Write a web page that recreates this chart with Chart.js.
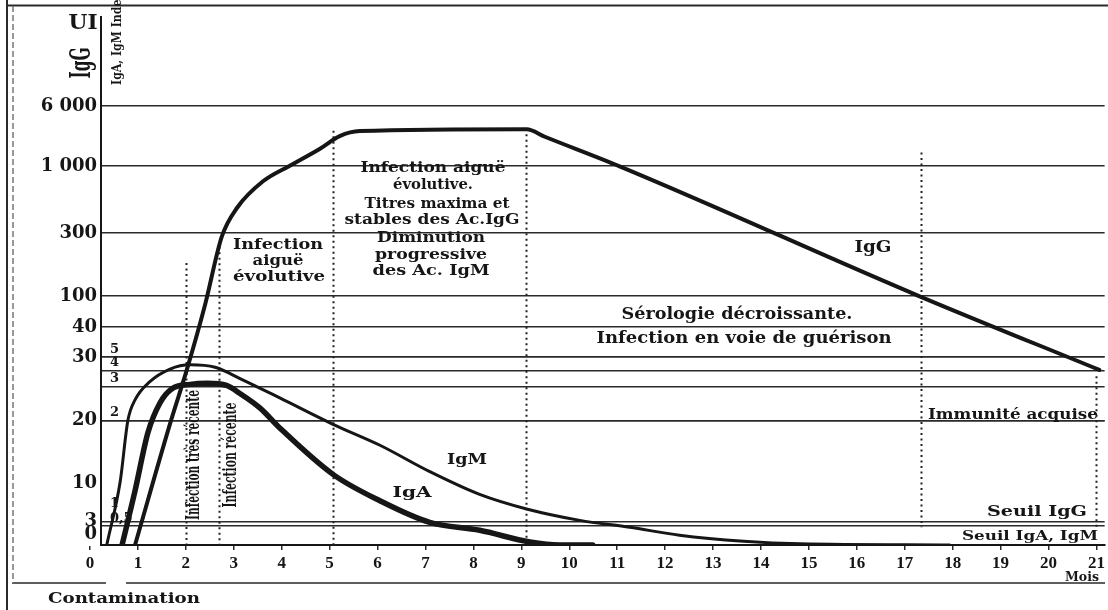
<!DOCTYPE html>
<html>
<head>
<meta charset="utf-8">
<title>Sérologie IgG IgM IgA</title>
<script src="https://cdn.jsdelivr.net/npm/chart.js@4.4.0/dist/chart.umd.min.js"></script>
<style>
    html, body { margin: 0; padding: 0; background: #fff; }
    canvas { display: block; }
</style>
</head>
<body>
<canvas id="serologyChart" width="1108" height="610"></canvas>
<script>
// IgG graduation (UI) on the left, and where each step sits on the drawn axis
const iggLabels = ['0', '3', '10', '20', '30', '40', '100', '300', '1 000', '6 000'];
const iggValues = [0, 3, 10, 20, 30, 40, 100, 300, 1000, 6000];
const iggLevels = [0, 0.37, 0.98, 1.98, 2.99, 3.47, 3.96, 4.97, 6.03, 6.99];

// IgA / IgM index graduation (inner scale)
const indexLabels = ['0', '0,5', '1', '2', '3', '4', '5'];
const indexValues = [0, 0.5, 1, 2, 3, 4, 5];
const indexLevels = [0, 0.30, 0.53, 1.98, 2.52, 2.77, 2.99];

// months after contamination
const monthTicks = [0, 1, 2, 3, 4, 5, 6, 7, 8, 9, 10, 11, 12, 13, 14, 15, 16, 17, 18, 19, 20, 21];

// IgG titre (UI)
const iggMonths = [0.94, 1.69, 2.02, 2.40, 2.75, 3.07, 3.61, 4.17, 4.80, 5.21, 5.63, 9.11, 9.49, 11.05, 17.31, 21.06];
const iggTitre  = [0, 20, 28, 83, 288, 564, 842, 1050, 2460, 3500, 3920, 4070, 3450, 1000, 100, 28];

// IgM index
const igmMonths = [0.35, 0.63, 0.79, 0.94, 1.25, 1.67, 2.09, 2.61, 3.13, 3.96, 5.07, 6.05, 7.09, 8.13, 9.11, 10.22, 11.26, 12.30, 13.64, 14.81, 17.94];
const igmIndex  = [0, 1.33, 2.0, 2.61, 3.32, 4.14, 4.45, 4.27, 3.52, 2.67, 1.96, 1.73, 1.44, 1.19, 1.03, 0.70, 0.47, 0.26, 0.10, 0.03, 0];

// IgA index
const igaMonths = [0.67, 0.94, 1.21, 1.46, 1.71, 2.09, 2.45, 2.85, 3.13, 3.55, 3.96, 5.07, 6.05, 7.09, 8.13, 9.18, 9.80, 10.49];
const igaIndex  = [0, 1.23, 1.87, 2.52, 2.94, 3.15, 3.22, 3.08, 2.80, 2.37, 1.92, 1.41, 1.12, 0.63, 0.39, 0.08, 0, 0];

// dotted phase boundaries: month, top and bottom (IgG UI)
const phaseMonths = [2.0, 2.69, 5.07, 9.1, 17.33, 21.0];
const phaseTop    = [205, 256, 3950, 3660, 2150, 27];
const phaseBottom = [0, 0, 0, 0, 2.3, 2.3];

const ink = '#161616';
const serif = '"DejaVu Serif", "Liberation Serif", serif';

// piecewise mapping of a value onto the graduated axis
function toLevel(v, values, levels) {
    if (v <= values[0]) return levels[0];
    for (let i = 1; i < values.length; i++) {
        if (v <= values[i]) {
            const t = (v - values[i - 1]) / (values[i] - values[i - 1]);
            return levels[i - 1] + t * (levels[i] - levels[i - 1]);
        }
    }
    return levels[levels.length - 1];
}

function makeSeries(months, vals, values, levels) {
    return months.map((m, i) => ({ x: m, y: toLevel(vals[i], values, levels) }));
}

function drawText(ctx, str, x, y, size, width, opts = {}) {
    ctx.save();
    ctx.font = 'bold ' + size + 'px ' + (opts.family || serif);
    ctx.textBaseline = 'middle';
    ctx.textAlign = 'center';
    ctx.fillStyle = ink;
    const w = ctx.measureText(str).width;
    ctx.translate(x, y);
    if (opts.rotate) ctx.rotate(-Math.PI / 2);
    ctx.scale(width ? width / w : 1, opts.cross || 1);
    ctx.fillText(str, 0, 0);
    ctx.restore();
}

// text on the figure: string, centre x, centre y, font size, width
const notes = [
    ['Infection', 278, 245, 14, 90],
    ['aiguë', 278, 261, 14, 51],
    ['évolutive', 279, 277, 14, 92],
    ['Infection aiguë', 433, 168, 14, 145],
    ['évolutive.', 433, 185, 14, 80],
    ['Titres maxima et', 437, 204, 14, 145],
    ['stables des Ac.IgG', 432, 220, 14, 175],
    ['Diminution', 431, 238, 14, 108],
    ['progressive', 431, 255, 14, 112],
    ['des Ac. IgM', 431, 271, 14, 117],
    ['IgG', 873, 248, 16, 37],
    ['Sérologie décroissante.', 737, 315, 16, 231],
    ['Infection en voie de guérison', 744, 339, 16, 295],
    ['Immunité acquise', 1013, 415, 15, 170],
    ['IgM', 467, 460, 15, 40],
    ['IgA', 412, 493, 15, 39],
    ['Seuil IgG', 1037, 512, 15, 100],
    ['Seuil IgA, IgM', 1030, 537, 12, 136],
    ['Mois', 1082, 578, 13, 34],
    ['Contamination', 124, 599, 15, 152],
    ['UI', 83, 24, 20, 29]
];

const decorations = {
    id: 'decorations',
    beforeDatasetsDraw(chart) {
        const { ctx, scales: { x, y } } = chart;
        ctx.save();
        ctx.strokeStyle = '#222';
        ctx.lineWidth = 2;
        ctx.setLineDash([2, 3.5]);
        phaseMonths.forEach((m, i) => {
            const px = Math.round(x.getPixelForValue(m)) + 0.5;
            ctx.beginPath();
            ctx.moveTo(px, y.getPixelForValue(toLevel(phaseTop[i], iggValues, iggLevels)));
            ctx.lineTo(px, y.getPixelForValue(toLevel(phaseBottom[i], iggValues, iggLevels)));
            ctx.stroke();
        });
        ctx.restore();
    },
    afterDraw(chart) {
        const ctx = chart.ctx;
        // frame of the scanned figure
        ctx.save();
        ctx.strokeStyle = '#2a2a2a';
        ctx.lineWidth = 2;
        ctx.beginPath();
        ctx.moveTo(7, 5.5); ctx.lineTo(1108, 5.5);
        ctx.moveTo(7, 0); ctx.lineTo(7, 610);
        ctx.stroke();
        ctx.lineWidth = 1.5;
        ctx.beginPath();
        ctx.moveTo(12, 583); ctx.lineTo(106, 583);
        ctx.moveTo(126, 583); ctx.lineTo(1105, 583);
        ctx.stroke();
        ctx.strokeStyle = '#777';
        ctx.setLineDash([6, 3]);
        ctx.beginPath();
        ctx.moveTo(13, 6); ctx.lineTo(13, 583);
        ctx.stroke();
        ctx.restore();

        notes.forEach(n => drawText(ctx, n[0], n[1], n[2], n[3], n[4]));
        drawText(ctx, 'IgG', 83, 63, 22, 31, { rotate: true, cross: 1.3 });
        drawText(ctx, 'IgA, IgM Index', 118, 39, 11, 92, { rotate: true, cross: 1.1 });
        drawText(ctx, 'Infection très récente', 194, 455, 15, 130, { rotate: true, cross: 1.25 });
        drawText(ctx, 'Infection récente', 231, 455, 15, 105, { rotate: true, cross: 1.25 });
    }
};

const tickFont = { family: serif, weight: 'bold', size: 18 };

new Chart(document.getElementById('serologyChart'), {
    type: 'line',
    data: {
        datasets: [
            {
                label: 'IgG',
                data: makeSeries(iggMonths, iggTitre, iggValues, iggLevels),
                borderColor: ink,
                borderWidth: 4
            },
            {
                label: 'IgM',
                data: makeSeries(igmMonths, igmIndex, indexValues, indexLevels),
                borderColor: ink,
                borderWidth: 3
            },
            {
                label: 'IgA',
                data: makeSeries(igaMonths, igaIndex, indexValues, indexLevels),
                borderColor: ink,
                borderWidth: 5.5
            }
        ]
    },
    options: {
        responsive: false,
        animation: false,
        devicePixelRatio: 1,
        layout: { padding: { top: 5, right: 3, left: 0, bottom: 0 } },
        elements: {
            point: { radius: 0 },
            line: { cubicInterpolationMode: 'monotone', borderCapStyle: 'round', borderJoinStyle: 'round', fill: false }
        },
        plugins: {
            legend: { display: false },
            tooltip: { enabled: false }
        },
        scales: {
            x: {
                type: 'linear',
                min: 0.23,
                max: 21.17,
                afterBuildTicks: s => { s.ticks = monthTicks.map(v => ({ value: v })); },
                afterFit: s => { s.height = 65; },
                ticks: {
                    autoSkip: false,
                    maxRotation: 0,
                    padding: 3,
                    color: ink,
                    font: { family: '"Liberation Serif", serif', weight: 'bold', size: 17 },
                    callback: (v, i) => String(monthTicks[i])
                },
                grid: { drawOnChartArea: false, tickLength: 5, color: '#2a2a2a', lineWidth: 1.5 },
                border: { color: ink, width: 2 }
            },
            y: {
                type: 'linear',
                position: 'left',
                weight: 1,
                min: 0,
                max: 8.41,
                afterBuildTicks: s => { s.ticks = iggLevels.map(v => ({ value: v })); },
                afterFit: s => { s.width = 101; },
                ticks: {
                    autoSkip: false,
                    padding: 4,
                    color: ink,
                    font: tickFont,
                    callback: (v, i) => i === 0 ? ['0', ''] : iggLabels[i]
                },
                grid: {
                    drawTicks: false,
                    lineWidth: 1.6,
                    color: c => (c.index === 0 || iggLabels[c.index] === '10') ? 'rgba(0,0,0,0)' : '#2a2a2a'
                },
                border: { color: ink, width: 2 }
            },
            y2: {
                type: 'linear',
                position: 'left',
                weight: 0,
                min: 0,
                max: 8.41,
                afterBuildTicks: s => { s.ticks = indexLevels.slice(1).map(v => ({ value: v })); },
                afterFit: s => { s.width = 0; },
                ticks: {
                    mirror: true,
                    autoSkip: false,
                    padding: 9,
                    labelOffset: -8,
                    color: ink,
                    font: { family: serif, weight: 'bold', size: 13 },
                    callback: (v, i) => indexLabels[i + 1]
                },
                grid: {
                    drawTicks: false,
                    lineWidth: 1.6,
                    color: c => indexLabels[c.index + 1] === '1' ? 'rgba(0,0,0,0)' : '#2a2a2a'
                },
                border: { display: false }
            }
        }
    },
    plugins: [decorations]
});
</script>
</body>
</html>
